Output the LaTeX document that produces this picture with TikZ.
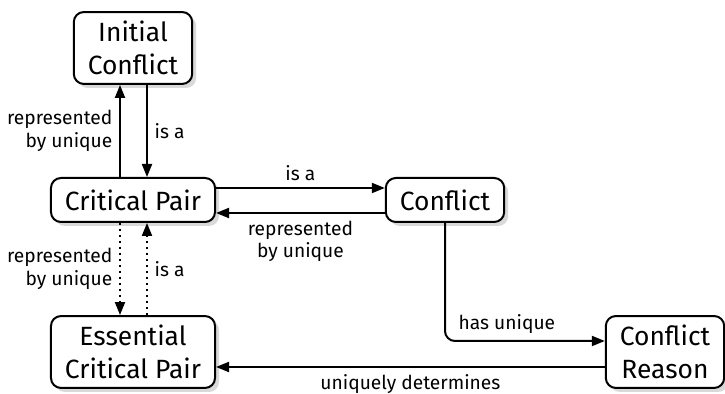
\documentclass[tikz,border=0pt]{standalone}
\usepackage{fontspec}
\setmainfont{Fira Sans}
\usepackage{tikz}
\usetikzlibrary{arrows.meta, shadows}

\begin{document}
\begin{tikzpicture}[x=0.5pt, y=-0.5pt,
  concept/.style={draw=black, line width=1pt, fill=white, rounded corners=5pt,
    align=center, inner xsep=7pt, inner ysep=4.5pt, minimum height=22pt,
    font=\fontsize{13.2}{16.5}\selectfont,
    drop shadow={shadow xshift=2pt, shadow yshift=-2pt, fill=black!15, opacity=1}},
  rel/.style={line width=1pt, -{Triangle[length=6.5pt, width=5pt]}},
  weak/.style={rel, dotted},
  lbl/.style={font=\fontsize{9.6}{11.3}\selectfont, align=center}]
\useasboundingbox (0,0) rectangle (725,394);

% Begriffe
\node[concept] (ic) at (133,48) {Initial\\Conflict};
\node[concept] (cp) at (133,200) {Critical Pair};
\node[concept] (cf) at (445,200) {Conflict};
\node[concept] (ecp) at (133,352) {Essential\\Critical Pair};
\node[concept] (cr) at (665,352) {Conflict\\Reason};

% Initial Conflict <-> Critical Pair
\draw[rel] ([xshift=-6.5pt]cp.north) -- ([xshift=-6.5pt]ic.south)
  node[lbl, midway, left, align=right] {represented\\by unique};
\draw[rel] ([xshift=7pt]ic.south) -- ([xshift=7pt]cp.north)
  node[lbl, midway, right] {is a};

% Critical Pair <-> Conflict
\draw[rel] ([yshift=6pt]cp.east) -- ([yshift=6pt]cf.west)
  node[lbl, midway, above] {is a};
\draw[rel] ([yshift=-6.5pt]cf.west) -- ([yshift=-6.5pt]cp.east)
  node[lbl, midway, below] {represented\\by unique};

% Critical Pair <-> Essential Critical Pair
\draw[weak] ([xshift=-6.5pt]cp.south) -- ([xshift=-6.5pt]ecp.north)
  node[lbl, midway, left, align=right] {represented\\by unique};
\draw[weak] ([xshift=7pt]ecp.north) -- ([xshift=7pt]cp.south)
  node[lbl, midway, right] {is a};

% Conflict -> Conflict Reason -> Essential Critical Pair
\draw[rel, rounded corners=5pt] (cf.south) |- ([yshift=5.5pt]cr.west)
  node[lbl, pos=0.5, above right, xshift=3pt] {has unique};
\draw[rel] ([yshift=-7.5pt]cr.west) -- ([yshift=-7.5pt]ecp.east)
  node[lbl, midway, below] {uniquely determines};

\end{tikzpicture}
\end{document}
